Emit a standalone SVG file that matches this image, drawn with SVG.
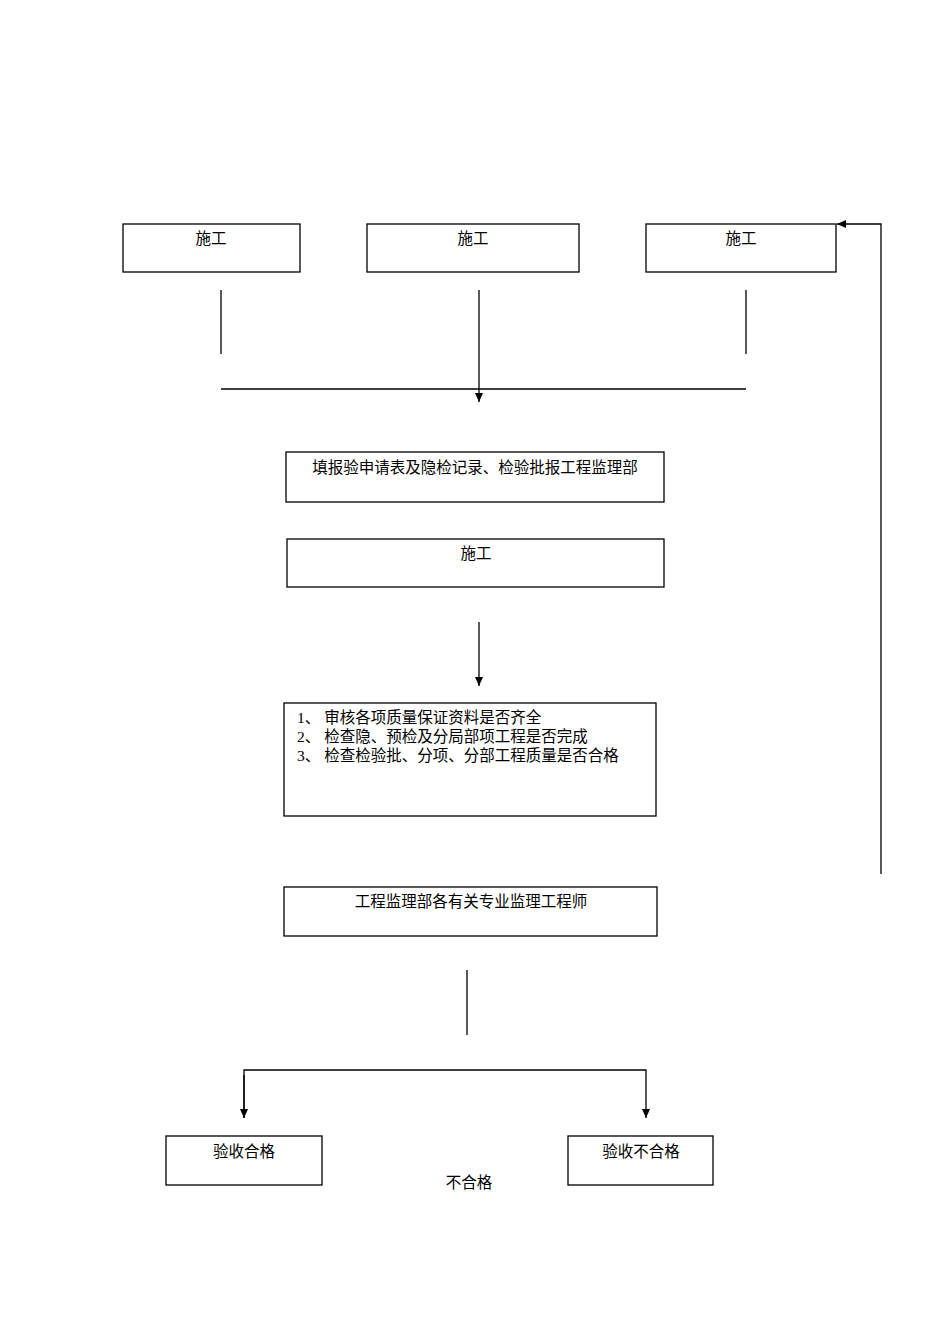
<svg xmlns="http://www.w3.org/2000/svg" width="950" height="1344" viewBox="0 0 950 1344">
<style>
.b{fill:#fff;stroke:#000;stroke-width:1.3}
line,polyline{stroke:#000;stroke-width:1.3;fill:none}
text{font-family:"Liberation Serif","Noto Sans CJK SC",serif;font-size:15.5px;fill:#000}
.c{text-anchor:middle}
</style>
<defs><marker id="a" markerWidth="10" markerHeight="10" refX="9" refY="5" orient="auto" markerUnits="userSpaceOnUse"><path d="M0,1 L9,5 L0,9 Z" fill="#000"/></marker></defs>
<rect width="950" height="1344" fill="#fff"/>
<g id="connectors">
<line x1="221" y1="290" x2="221" y2="354"/>
<line x1="479" y1="290" x2="479" y2="402" marker-end="url(#a)"/>
<line x1="746" y1="290" x2="746" y2="354"/>
<line x1="221" y1="389" x2="746" y2="389"/>
<line x1="479" y1="622" x2="479" y2="686" marker-end="url(#a)"/>
<line x1="467" y1="970" x2="467" y2="1035"/>
<polyline points="244,1118 244,1070 646,1070 646,1118" marker-end="url(#a)"/>
<line x1="244" y1="1075" x2="244" y2="1118" marker-end="url(#a)"/>
<polyline points="881,874 881,224 837,224" marker-end="url(#a)"/>
</g>
<g id="n1"><rect class="b" x="123" y="224" width="177" height="48"/><text x="211" y="244" class="c">施工</text></g>
<g id="n2"><rect class="b" x="367" y="224" width="212" height="48"/><text x="473" y="244" class="c">施工</text></g>
<g id="n3"><rect class="b" x="646" y="224" width="190" height="48"/><text x="741" y="244" class="c">施工</text></g>
<g id="n4"><rect class="b" x="286" y="452" width="378" height="50"/><text x="475" y="473" class="c">填报验申请表及隐检记录、检验批报工程监理部</text></g>
<g id="n5"><rect class="b" x="287" y="539" width="377" height="48"/><text x="476" y="559" class="c">施工</text></g>
<g id="n6"><rect class="b" x="284" y="703" width="372" height="113"/>
<text x="297" y="723">1、 审核各项质量保证资料是否齐全</text>
<text x="297" y="742">2、 检查隐、预检及分局部项工程是否完成</text>
<text x="297" y="761">3、 检查检验批、分项、分部工程质量是否合格</text></g>
<g id="n7"><rect class="b" x="284" y="887" width="373" height="49"/><text x="471" y="907" class="c">工程监理部各有关专业监理工程师</text></g>
<g id="n8"><rect class="b" x="166" y="1136" width="156" height="49"/><text x="244" y="1157" class="c">验收合格</text></g>
<g id="n9"><rect class="b" x="568" y="1136" width="145" height="49"/><text x="641" y="1157" class="c">验收不合格</text></g>
<text x="469" y="1188" class="c">不合格</text>
</svg>
